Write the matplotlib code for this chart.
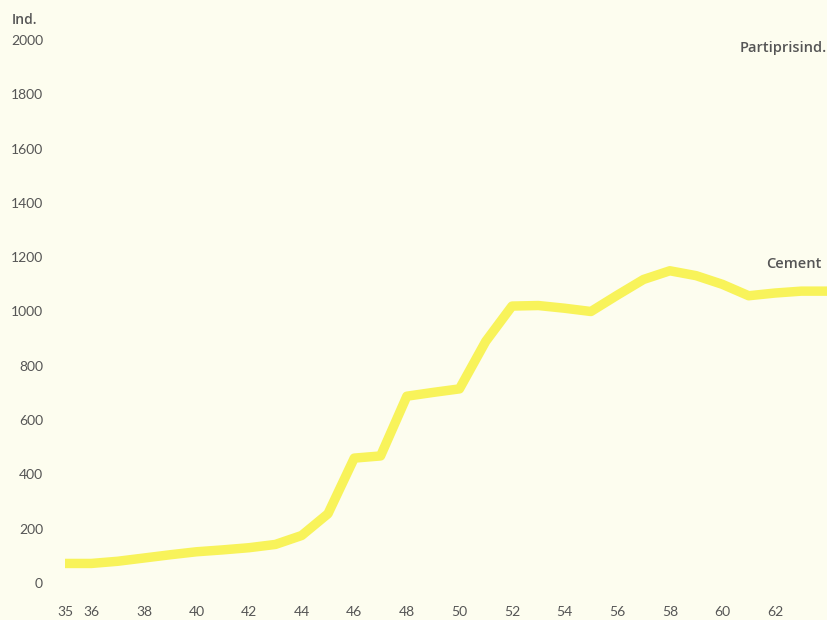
import matplotlib
matplotlib.use("Agg")
import matplotlib.pyplot as plt

years = [35, 36, 37, 38, 39, 40, 41, 42, 43, 44, 45, 46, 47, 48, 49, 50,
         51, 52, 53, 54, 55, 56, 57, 58, 59, 60, 61, 62, 63, 64]
cement = [72, 72, 80, 92, 104, 115, 122, 130, 142, 175, 255, 460, 468, 688,
          702, 715, 890, 1020, 1022, 1012, 1000, 1060, 1118, 1150, 1132,
          1100, 1058, 1068, 1075, 1075]
xtick_pos = [35, 36, 38, 40, 42, 44, 46, 48, 50, 52, 54, 56, 58, 60, 62]
xtick_labels = [str(v) for v in xtick_pos]
ytick_pos = [0, 200, 400, 600, 800, 1000, 1200, 1400, 1600, 1800, 2000]
ytick_labels = [str(v) for v in ytick_pos]

BG = "#fdfdef"
TXT = "#555555"
W, H = 828, 620
fig = plt.figure(figsize=(W / 100, H / 100), dpi=100, facecolor=BG)
# axes from x pixel 50 to 828, y pixel 20 to 595
ax = fig.add_axes([50 / W, 1 - 595 / H, (828 - 50) / W, (595 - 20) / H])
ax.set_facecolor(BG)
pxyr = (775 - 65) / 27.0
ax.set_xlim(35 - (65 - 50) / pxyr, 35 + (828 - 65) / pxyr)
pyv = (583 - 40) / 2000.0
ax.set_ylim(-(595 - 583) / pyv, 2000 + (40 - 20) / pyv)

ax.plot(years, cement, color="#f8f35a", lw=6.8, solid_joinstyle="round",
        solid_capstyle="butt")

for s in ax.spines.values():
    s.set_visible(False)
font = "Lato"
lfont = "Open Sans"
ax.set_xticks(xtick_pos)
ax.set_xticklabels(xtick_labels, fontsize=10, color=TXT, family=font)
ax.set_yticks(ytick_pos)
ax.set_yticklabels(ytick_labels, fontsize=10, color=TXT, family=font)
ax.tick_params(axis="both", length=0)
ax.tick_params(axis="x", pad=8)
ax.tick_params(axis="y", pad=5)

fig.text(12 / W, 1 - 20 / H, "Ind.", fontsize=10, color=TXT, family=lfont,
         ha="left", va="center", fontweight="semibold")
ax.text(0.998, 1970, "Partiprisind.", transform=ax.get_yaxis_transform(),
        fontsize=10.5, color=TXT, family=lfont, ha="right", va="center",
        fontweight="semibold")
ax.text(0.992, 1175, "Cement", transform=ax.get_yaxis_transform(),
        fontsize=10.5, color=TXT, family=lfont, ha="right", va="center",
        fontweight="semibold")

fig.savefig("out.png", dpi=100, facecolor=BG)
